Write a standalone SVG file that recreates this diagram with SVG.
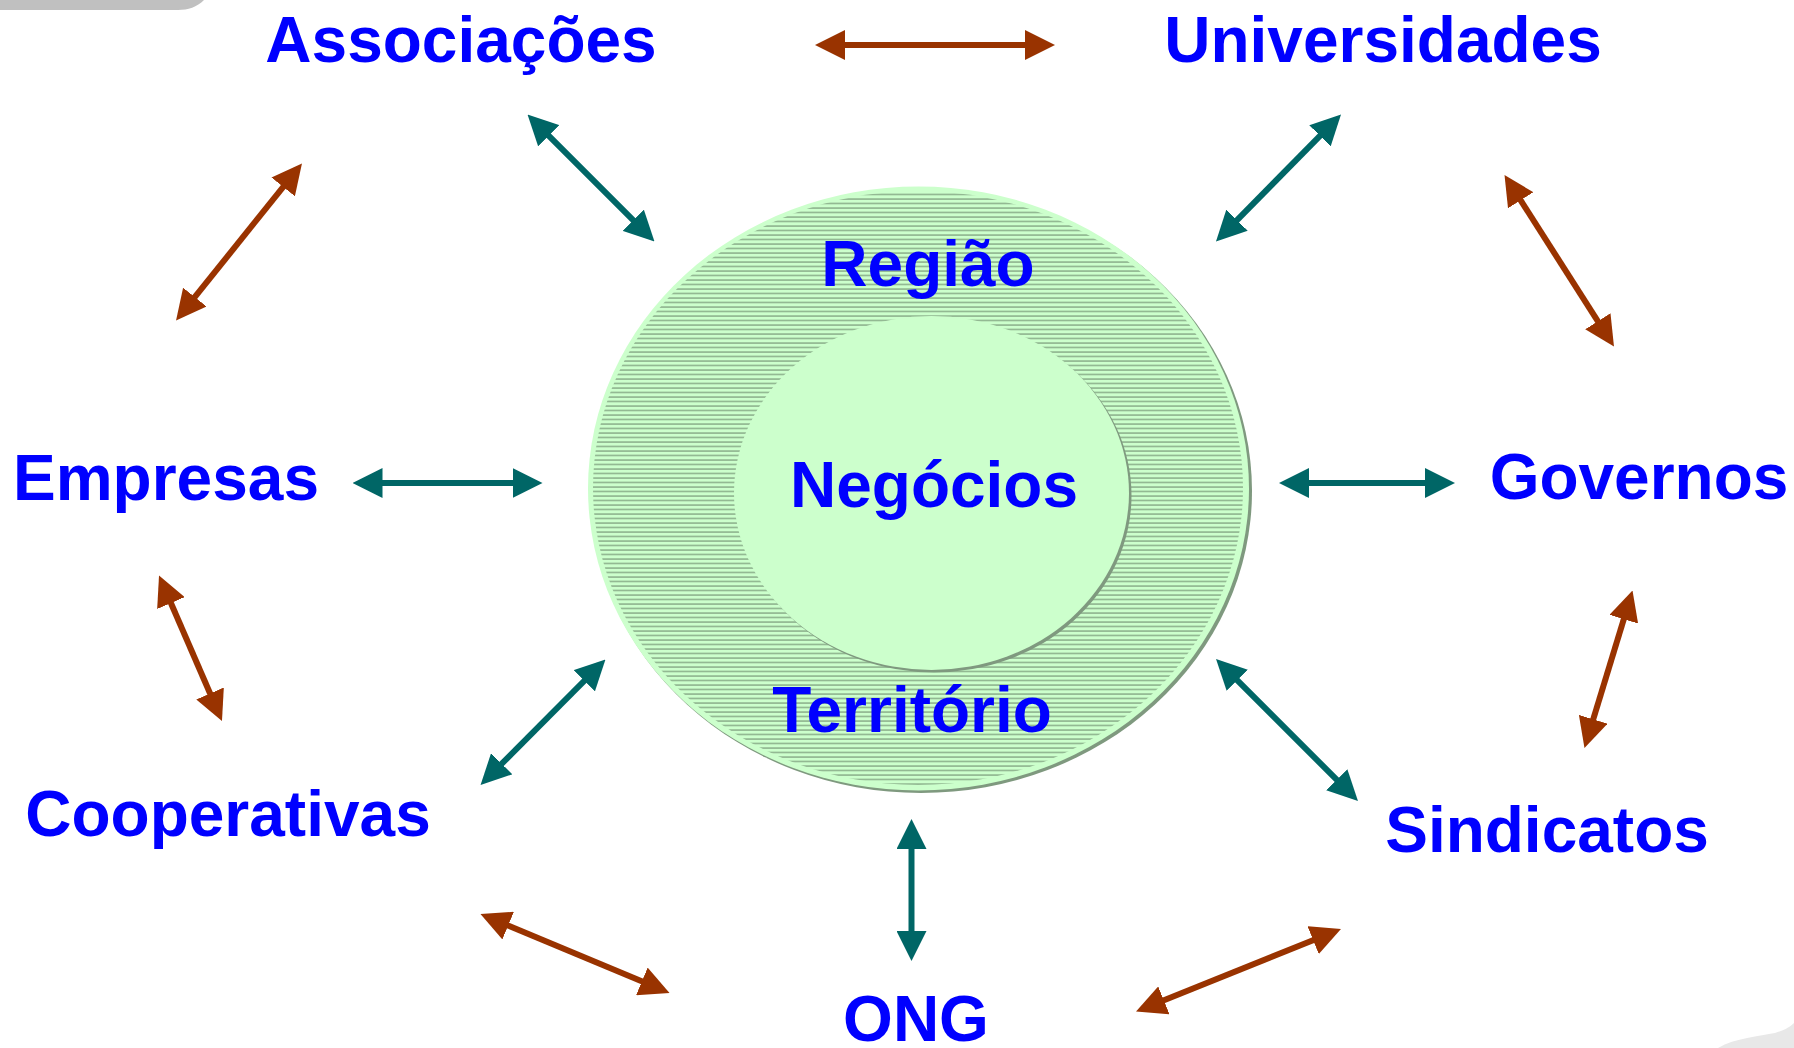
<svg xmlns="http://www.w3.org/2000/svg" width="1794" height="1048" viewBox="0 0 1794 1048">
<style>
.lbl{font-family:"Liberation Sans",Arial,sans-serif;font-weight:bold;font-size:64px;fill:#0000ff;text-anchor:middle}
.teal{stroke:#006666;stroke-width:6;fill:none;marker-start:url(#ht);marker-end:url(#ht)}
.brown{stroke:#993300;stroke-width:6;fill:none;marker-start:url(#hb);marker-end:url(#hb)}
</style>
<defs>
<marker id="ht" viewBox="0 0 30 30" refX="20" refY="15" markerWidth="30" markerHeight="30" markerUnits="userSpaceOnUse" orient="auto-start-reverse"><path d="M0,0 L30,15 L0,30 Z" fill="#006666"/></marker>
<marker id="hb" viewBox="0 0 30 30" refX="20" refY="15" markerWidth="30" markerHeight="30" markerUnits="userSpaceOnUse" orient="auto-start-reverse"><path d="M0,0 L30,15 L0,30 Z" fill="#993300"/></marker>
<pattern id="hatch" patternUnits="userSpaceOnUse" width="20" height="4.5"><rect width="20" height="4.5" fill="#ccffcc"/><line x1="0" y1="1" x2="20" y2="1" stroke="#6a876a" stroke-width="1"/></pattern>
<clipPath id="oc"><ellipse cx="918" cy="488" rx="325" ry="297"/></clipPath>
</defs>
<rect width="1794" height="1048" fill="#ffffff"/>
<path d="M0 0 H204 C197 7 188 10 178 10 H0 Z" fill="#c0c0c0"/>
<path d="M1718 1048 C1735 1038 1760 1036 1775 1033 C1785 1030 1790 1027 1794 1023 V1048 Z" fill="#e8e8e8"/>

<g id="regiao">
<ellipse cx="921" cy="491" rx="331" ry="302" fill="#7f997f"/>
<ellipse cx="918.5" cy="488.5" rx="330.5" ry="302" fill="#ccffcc"/>
<rect x="590" y="190" width="660" height="600" fill="url(#hatch)" clip-path="url(#oc)"/>
<text class="lbl" x="928" y="286">Região</text>
<text class="lbl" x="912" y="732">Território</text>
</g>
<g id="negocios">
<ellipse cx="934" cy="495.5" rx="197.5" ry="177" fill="#7f997f"/>
<ellipse cx="931.5" cy="493" rx="197.5" ry="177" fill="#ccffcc"/>
<text class="lbl" x="934" y="507">Negócios</text>
</g>

<g id="associacoes"><text class="lbl" x="461" y="62">Associações</text></g>
<g id="universidades"><text class="lbl" x="1383" y="62">Universidades</text></g>
<g id="empresas"><text class="lbl" x="166" y="500">Empresas</text></g>
<g id="governos"><text class="lbl" x="1639" y="499">Governos</text></g>
<g id="cooperativas"><text class="lbl" x="228" y="836">Cooperativas</text></g>
<g id="sindicatos"><text class="lbl" x="1547" y="852">Sindicatos</text></g>
<g id="ong"><text class="lbl" x="916" y="1041">ONG</text></g>

<g id="connectors">
<line class="brown" x1="825" y1="45" x2="1045" y2="45"/>
<line class="teal" x1="534.6" y1="121.6" x2="647.4" y2="234.4"/>
<line class="teal" x1="1334" y1="121.6" x2="1223" y2="234.4"/>
<line class="brown" x1="295.7" y1="171.3" x2="182.3" y2="312.7"/>
<line class="brown" x1="1509.9" y1="183.4" x2="1608.6" y2="338.1"/>
<line class="teal" x1="362.5" y1="483" x2="532.5" y2="483"/>
<line class="teal" x1="1289" y1="483" x2="1445" y2="483"/>
<line class="brown" x1="163" y1="584.7" x2="218" y2="711.8"/>
<line class="brown" x1="1629.6" y1="600.1" x2="1587.4" y2="738.4"/>
<line class="teal" x1="598.4" y1="666.6" x2="487.6" y2="777.9"/>
<line class="teal" x1="1223.1" y1="666.1" x2="1350.9" y2="793.9"/>
<line class="teal" x1="911.5" y1="829" x2="911.5" y2="951"/>
<line class="brown" x1="489.7" y1="917.9" x2="660.3" y2="989.1"/>
<line class="brown" x1="1331.7" y1="932.7" x2="1145.3" y2="1007.8"/>
</g>
</svg>
